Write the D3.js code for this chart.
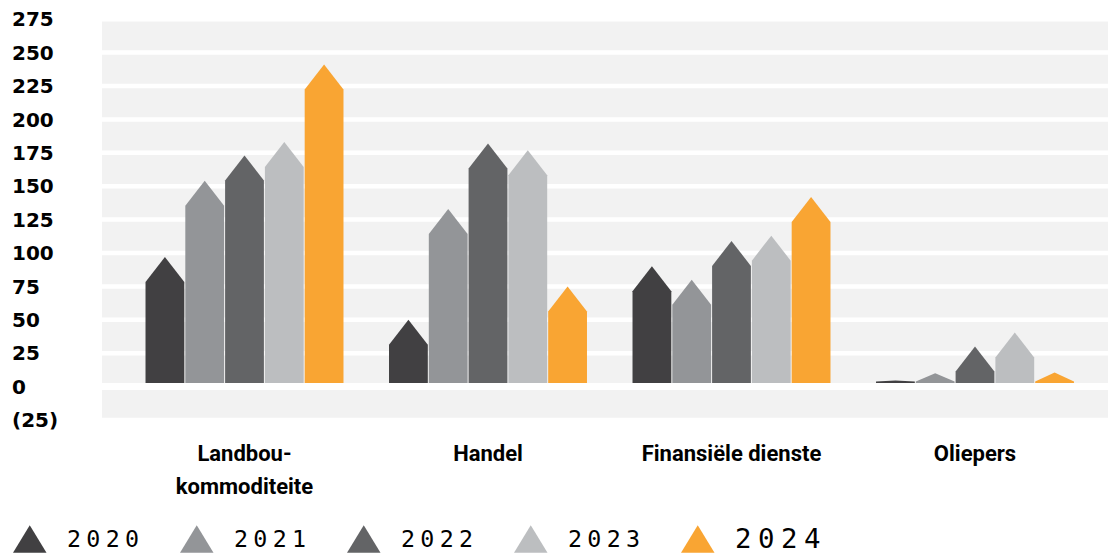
<!DOCTYPE html>
<html>
<head>
<meta charset="utf-8">
<script src="https://cdn.jsdelivr.net/npm/d3@7"></script>
<style>
  body { margin: 0; background: #fff; }
  svg { display: block; }
  .ylab { font-family: "DejaVu Sans", sans-serif; font-weight: bold; font-size: 20px; fill: #000; }
  .xlab { font-family: Roboto, sans-serif; font-weight: bold; font-size: 22px; fill: #000; }
  .leg { font-family: "DejaVu Sans Mono", monospace; font-size: 23.3px; fill: #000; letter-spacing: 5.3px; }
</style>
</head>
<body>
<div id="graph"></div>
<script>
// data
var categories = ["Landbou-\nkommoditeite", "Handel", "Finansiële dienste", "Oliepers"];
var years = ["2020", "2021", "2022", "2023", "2024"];
var v2020 = [97, 50, 90, 4.5];
var v2021 = [154, 133, 80, 10];
var v2022 = [173, 182, 109, 30];
var v2023 = [183, 177, 113, 40.5];
var v2024 = [241, 75, 142, 10.5];
var yTicks = [-25, 0, 25, 50, 75, 100, 125, 150, 175, 200, 225, 250, 275];
var colors = ["#414042", "#939598", "#636466", "#bcbec0", "#f9a533"];

var series = [v2020, v2021, v2022, v2023, v2024];

var svg = d3.select('#graph').append("svg")
.attr('width', 1108)
.attr('height', 556);

// scales
var y = d3.scaleLinear().domain([-25, 275]).range([420, 19.2]);
var x0 = d3.scaleBand().domain(categories).range([122.75, 1096.75])
.paddingInner(0.187).paddingOuter(0.0935);
var x1 = d3.scaleBand().domain(years).range([0, x0.bandwidth()]).paddingInner(0.025);
var color = d3.scaleOrdinal().domain(years).range(colors);

// grey plot area with white gridlines cut through it
svg.append("rect")
.attr("x", 102).attr("width", 1108 - 102)
.attr("y", y(275)).attr("height", y(-25) - y(275))
.attr("fill", "#f2f2f2");

svg.append("g").selectAll("line")
.data(yTicks.filter(function(d) { return d !== 0; }))
.enter().append("line")
.attr("x1", 102).attr("x2", 1108)
.attr("y1", function(d) { return y(d); })
.attr("y2", function(d) { return y(d); })
.attr("stroke", "#fff")
.attr("stroke-width", 4.5);

// y labels
svg.append("g").selectAll("text")
.data(yTicks)
.enter().append("text")
.attr("class", "ylab")
.attr("x", 12)
.attr("y", function(d) { return y(d); })
.attr("dy", "0.36em")
.text(function(d) { return d < 0 ? "(" + Math.abs(d) + ")" : d; });

// arrow shaped bars: body plus a roof on top
function arrow(left, w, v) {
  var top = y(v), base = y(0), h = base - top;
  var roof = Math.max(0, Math.min(25, h - 5));
  return "M" + left + "," + base +
    "L" + left + "," + (top + roof) +
    "L" + (left + w / 2) + "," + top +
    "L" + (left + w) + "," + (top + roof) +
    "L" + (left + w) + "," + base + "Z";
}

var groups = svg.append("g").selectAll("g")
.data(categories)
.enter().append("g")
.attr("transform", function(d) { return "translate(" + x0(d) + ",0)"; });

groups.selectAll("path")
.data(function(d, i) {
  return years.map(function(yr, j) { return {year: yr, value: series[j][i]}; });
})
.enter().append("path")
.attr("d", function(d) { return arrow(x1(d.year), x1.bandwidth(), d.value); })
.attr("fill", function(d) { return color(d.year); });

// zero axis line drawn over the bar bottoms
svg.append("line")
.attr("x1", 102).attr("x2", 1108)
.attr("y1", y(0)).attr("y2", y(0))
.attr("stroke", "#fff")
.attr("stroke-width", 7);

// category labels
var xAxis = svg.append("g")
.attr("transform", "translate(0," + y(-25) + ")")
.call(d3.axisBottom(x0).tickSize(0).tickFormat(""));
xAxis.select(".domain").remove();

xAxis.selectAll(".tick").each(function(d) {
  var t = d3.select(this).append("text")
  .attr("class", "xlab")
  .attr("text-anchor", "middle")
  .attr("y", 41);
  d.split("\n").forEach(function(line, k) {
    t.append("tspan").attr("x", 0).attr("dy", k === 0 ? 0 : 33).text(line);
  });
});

// legend, one item every 167px
var legend = svg.append("g");
years.forEach(function(yr, j) {
  var left = 13 + j * 167;
  legend.append("path")
  .attr("d", "M" + left + ",552.7L" + (left + 16.75) + ",525.3L" + (left + 33.5) + ",552.7Z")
  .attr("fill", color(yr));
  legend.append("text")
  .attr("class", "leg")
  .attr("x", left + 54)
  .attr("y", j === 4 ? 548 : 547)
  .style("font-size", j === 4 ? "27.4px" : null)
  .style("letter-spacing", j === 4 ? "6.5px" : null)
  .text(yr);
});
</script>
</body>
</html>
